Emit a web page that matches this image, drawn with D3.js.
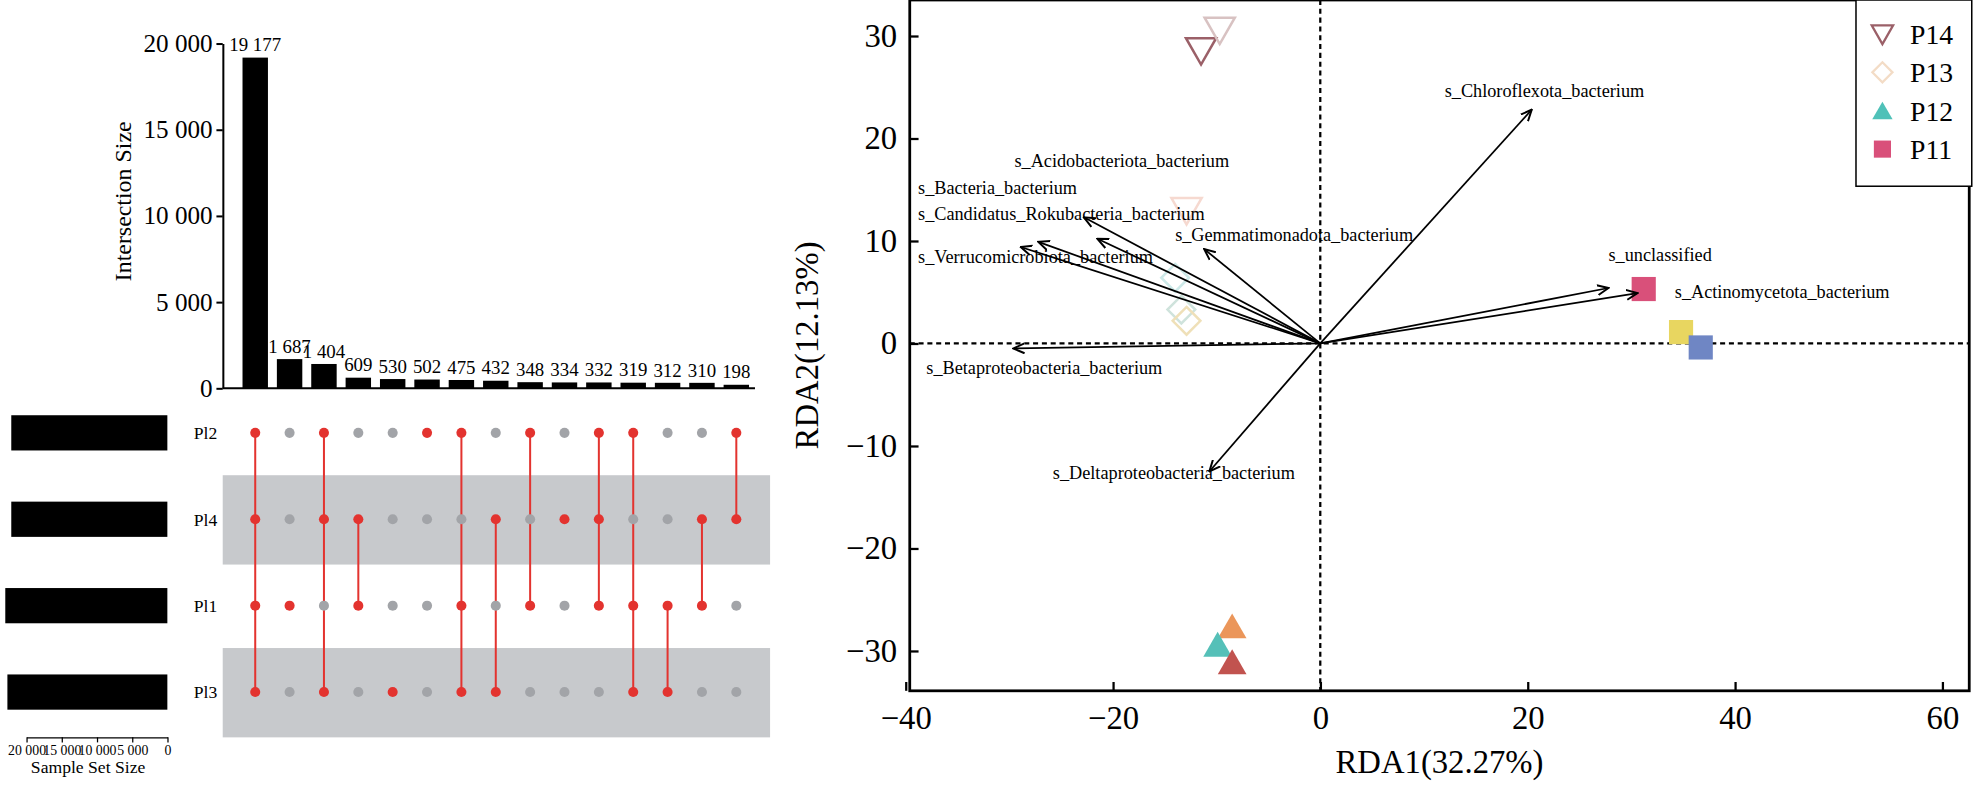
<!DOCTYPE html>
<html><head><meta charset="utf-8">
<script src="https://cdn.jsdelivr.net/npm/d3@7"></script>
<style>body{margin:0;background:#fff}text{font-family:"Liberation Serif","Times New Roman",serif}</style>
</head><body>
<svg id="c" width="1973" height="788"></svg>
<script>
// ---- UpSet data ----
const sets = ["Pl2", "Pl4", "Pl1", "Pl3"];
const setSizes = [22150, 22150, 23000, 22700];
const interSizes = [19177, 1687, 1404, 609, 530, 502, 475, 432, 348, 334, 332, 319, 312, 310, 198];
const interMembers = [
  ["Pl2","Pl4","Pl1","Pl3"], ["Pl1"], ["Pl2","Pl4","Pl3"], ["Pl4","Pl1"], ["Pl3"], ["Pl2"],
  ["Pl2","Pl1","Pl3"], ["Pl4","Pl3"], ["Pl2","Pl1"], ["Pl4"], ["Pl2","Pl4","Pl1"],
  ["Pl2","Pl1","Pl3"], ["Pl1","Pl3"], ["Pl4","Pl1"], ["Pl2","Pl4"]
];
const interTicks = [0, 5000, 10000, 15000, 20000];
const setTicks = [0, 5000, 10000, 15000, 20000];

// ---- RDA data ----
const groups = ["P14", "P13", "P12", "P11"];
const groupShape = ["tridown", "diamond", "triup", "square"];
const groupLegendColor = ["#9b6068", "#f3dcc6", "#4fc1b8", "#d9507a"];
const samples = [
  {g:"P14", x:-11.5, y:28.6, c:"#9b6068"},
  {g:"P14", x:-9.7, y:30.6, c:"#d8c2c2"},
  {g:"P14", x:-12.9, y:13.0, c:"#f6d9d0"},
  {g:"P13", x:-14.0, y:6.4, c:"#cde9e8"},
  {g:"P13", x:-13.4, y:3.3, c:"#cfe3dc"},
  {g:"P13", x:-12.9, y:2.2, c:"#efe0b8"},
  {g:"P12", x:-8.5, y:-27.6, c:"#eb965a"},
  {g:"P12", x:-9.9, y:-29.4, c:"#55c0b8"},
  {g:"P12", x:-8.5, y:-31.1, c:"#c1534f"},
  {g:"P11", x:31.2, y:5.3, c:"#d9507a"},
  {g:"P11", x:34.8, y:1.1, c:"#e8d660"},
  {g:"P11", x:36.7, y:-0.4, c:"#6f86c4"}
];
const species = ["s_Chloroflexota_bacterium","s_unclassified","s_Actinomycetota_bacterium",
  "s_Betaproteobacteria_bacterium","s_Deltaproteobacteria_bacterium","s_Acidobacteriota_bacterium",
  "s_Bacteria_bacterium","s_Candidatus_Rokubacteria_bacterium","s_Gemmatimonadota_bacterium",
  "s_Verrucomicrobiota_bacterium"];
const arrowX = [20.4, 27.8, 30.6, -29.6, -10.7, -22.8, -27.2, -21.5, -11.2, -28.9];
const arrowY = [22.8, 5.4, 4.9, -0.5, -12.5, 12.3, 9.9, 10.2, 9.2, 9.4];
// label anchors (data units)
const labelX = [12.0, 27.8, 34.2, -38.0, -25.8, -29.5, -38.8, -38.8, -14.0, -38.8];
const labelY = [24.0, 8.0, 4.4, -3.0, -13.2, 17.2, 14.6, 12.0, 10.0, 7.8];

const root = d3.select("#c").append("g").attr("transform","scale(1.2583)");
const fmt = d3.formatLocale({decimal:".", thousands:" ", grouping:[3], currency:["",""]}).format(",");

// ===== UpSet: intersection bars =====
const colX = d3.scaleBand().domain(d3.range(interSizes.length)).range([190, 598]).paddingInner(0.26).paddingOuter(0.1);
const yInt = d3.scaleLinear().domain([0, 20000]).range([308.5, 34.5]);
const rowY = d3.scalePoint().domain(sets).range([344, 550]);

root.append("g").attr("transform","translate(177,0)")
  .call(d3.axisLeft(yInt).tickValues(interTicks).tickFormat(fmt).tickSize(5).tickSizeOuter(0))
  .call(g=>g.selectAll("text").attr("font-size",20).attr("font-family","Liberation Serif"))
  .call(g=>g.selectAll("path,line").attr("stroke","#000").attr("stroke-width",1.6));
root.append("line").attr("x1",177).attr("x2",600).attr("y1",308.5).attr("y2",308.5).attr("stroke","#000").attr("stroke-width",1.6);
root.append("text").attr("transform","translate(104,160) rotate(-90)").attr("text-anchor","middle")
  .attr("font-size",19).text("Intersection Size");

root.selectAll("rect.ib").data(interSizes).enter().append("rect").attr("class","ib")
  .attr("x",(d,i)=>colX(i)).attr("width",colX.bandwidth())
  .attr("y",d=>yInt(d)).attr("height",d=>yInt(0)-yInt(d)).attr("fill","#000");
root.selectAll("text.il").data(interSizes).enter().append("text").attr("class","il")
  .attr("x",(d,i)=>colX(i)+colX.bandwidth()/2).attr("y",d=>yInt(d)-5)
  .attr("text-anchor","middle").attr("font-size",15).text(d=>fmt(d));

// ===== matrix =====
sets.forEach((s,i)=>{ if(i%2===1) root.append("rect").attr("x",177).attr("width",435)
  .attr("y",rowY(s)-35).attr("height",71).attr("fill","#c7c9cc"); });
root.selectAll("text.sl").data(sets).enter().append("text").attr("class","sl")
  .attr("x",154).attr("y",d=>rowY(d)+5).attr("font-size",14).text(d=>d);
interMembers.forEach((m,i)=>{
  const cx = colX(i)+colX.bandwidth()/2;
  const ys = m.map(s=>rowY(s));
  if (ys.length>1) root.append("line").attr("x1",cx).attr("x2",cx)
    .attr("y1",d3.min(ys)).attr("y2",d3.max(ys)).attr("stroke","#e3332f").attr("stroke-width",1.6);
  sets.forEach(s=>{
    root.append("circle").attr("cx",cx).attr("cy",rowY(s)).attr("r",4)
      .attr("fill", m.includes(s) ? "#e3332f" : "#a2a4a8");
  });
});

// ===== set size bars =====
const xSet = d3.scaleLinear().domain([0, 20000]).range([133, 21]);
root.selectAll("rect.sb").data(setSizes).enter().append("rect").attr("class","sb")
  .attr("x",d=>xSet(d)).attr("width",d=>xSet(0)-xSet(d))
  .attr("y",(d,i)=>rowY(sets[i])-14).attr("height",28).attr("fill","#000");
root.append("g").attr("transform","translate(0,586)")
  .call(d3.axisBottom(xSet).tickValues(setTicks).tickFormat(fmt).tickSize(4).tickSizeOuter(0).tickPadding(2))
  .call(g=>g.selectAll("text").attr("font-size",11).attr("font-family","Liberation Serif"))
  .call(g=>g.select(".domain").attr("stroke","#000"));
root.append("text").attr("x",70).attr("y",614).attr("text-anchor","middle").attr("font-size",14).text("Sample Set Size");

// ===== RDA =====
const L=723, R=1565, T=0, B=549;
const x = d3.scaleLinear().domain([-39.6, 62.6]).range([L, R]);
const y = d3.scaleLinear().domain([-33.9, 33.5]).range([B, T]);
const rda = root.append("g");
rda.append("rect").attr("x",L).attr("y",T).attr("width",R-L).attr("height",B-T)
  .attr("fill","none").attr("stroke","#000").attr("stroke-width",2.2);
rda.append("g").attr("transform",`translate(0,${B})`)
  .call(d3.axisBottom(x).tickValues([-40,-20,0,20,40,60]).tickSize(-7).tickSizeOuter(0).tickPadding(12))
  .call(g=>g.select(".domain").remove())
  .call(g=>g.selectAll("line").attr("stroke-width",1.8))
  .call(g=>g.selectAll("text").attr("font-size",26).attr("font-family","Liberation Serif"));
rda.append("g").attr("transform",`translate(${L},0)`)
  .call(d3.axisLeft(y).tickValues([-30,-20,-10,0,10,20,30]).tickSize(-7).tickSizeOuter(0).tickPadding(10))
  .call(g=>g.select(".domain").remove())
  .call(g=>g.selectAll("line").attr("stroke-width",1.8))
  .call(g=>g.selectAll("text").attr("font-size",26).attr("font-family","Liberation Serif"));
rda.append("text").attr("x",(L+R)/2).attr("y",614).attr("text-anchor","middle").attr("font-size",26).text("RDA1(32.27%)");
rda.append("text").attr("transform",`translate(650,${(T+B)/2}) rotate(-90)`).attr("text-anchor","middle").attr("font-size",26).text("RDA2(12.13%)");
rda.append("line").attr("x1",x(0)).attr("x2",x(0)).attr("y1",T).attr("y2",B).attr("stroke","#000").attr("stroke-width",1.8).attr("stroke-dasharray","4,3");
rda.append("line").attr("x1",L).attr("x2",R).attr("y1",y(0)).attr("y2",y(0)).attr("stroke","#000").attr("stroke-width",1.8).attr("stroke-dasharray","4,3");

d3.select("#c").append("defs").append("marker").attr("id","ah").attr("viewBox","0 0 10 10").attr("refX",9).attr("refY",5)
  .attr("markerWidth",7).attr("markerHeight",7).attr("orient","auto")
  .append("path").attr("d","M0,1 L9,5 L0,9").attr("fill","none").attr("stroke","#000").attr("stroke-width",1.6);

function shapePath(sh, size){
  const s=size;
  if(sh==="tridown") return `M${-s},${-s*0.8} L${s},${-s*0.8} L0,${s*0.95} Z`;
  if(sh==="triup") return `M${-s*0.95},${s*0.8} L${s*0.95},${s*0.8} L0,${-s*0.85} Z`;
  if(sh==="diamond") return `M0,${-s} L${s},0 L0,${s} L${-s},0 Z`;
  return `M${-s*0.8},${-s*0.8} L${s*0.8},${-s*0.8} L${s*0.8},${s*0.8} L${-s*0.8},${s*0.8} Z`;
}
samples.forEach(p=>{
  const sh = groupShape[groups.indexOf(p.g)];
  const filled = sh==="triup"||sh==="square";
  rda.append("path").attr("transform",`translate(${x(p.x)},${y(p.y)})`)
    .attr("d",shapePath(sh, sh==="diamond"?11:12))
    .attr("fill",filled?p.c:"none").attr("stroke",p.c).attr("stroke-width",filled?0:2);
});
species.forEach((s,i)=>{
  rda.append("line").attr("x1",x(0)).attr("y1",y(0)).attr("x2",x(arrowX[i])).attr("y2",y(arrowY[i]))
    .attr("stroke","#000").attr("stroke-width",1.4).attr("marker-end","url(#ah)");
  rda.append("text").attr("x",x(labelX[i])).attr("y",y(labelY[i])).attr("font-size",14.5).text(s);
});

// legend
const lg = root.append("g");
lg.append("rect").attr("x",1475).attr("y",0).attr("width",92).attr("height",148).attr("fill","#fff").attr("stroke","#000").attr("stroke-width",1.2);
groups.forEach((g,i)=>{
  const sh=groupShape[i], filled = sh==="triup"||sh==="square";
  const yy = 27+i*30.5;
  lg.append("path").attr("transform",`translate(1496,${yy})`).attr("d",shapePath(sh, sh==="diamond"?8:8.5))
    .attr("fill",filled?groupLegendColor[i]:"none").attr("stroke",groupLegendColor[i]).attr("stroke-width",filled?0:1.8);
  lg.append("text").attr("x",1518).attr("y",yy+8).attr("font-size",22).text(g);
});
</script>
</body></html>
